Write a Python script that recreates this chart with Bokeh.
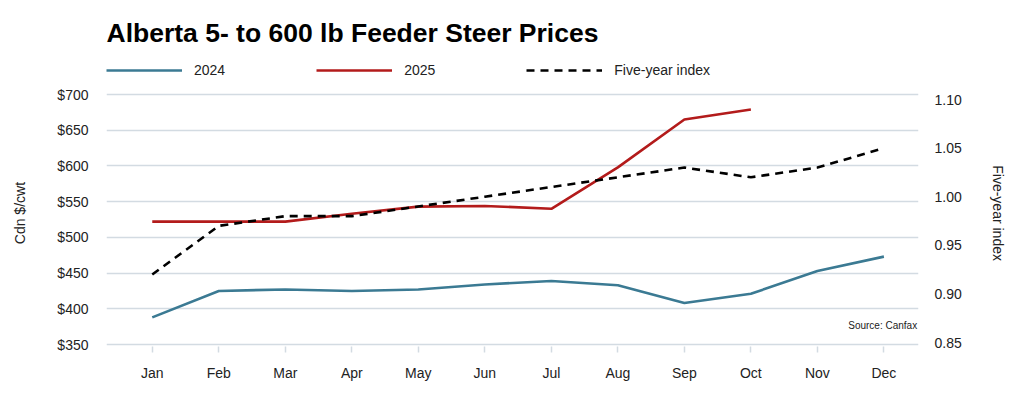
from bokeh.plotting import figure
from bokeh.models import (Range1d, LinearAxis, FixedTicker, Legend, LegendItem, Label)
from bokeh.embed import file_html
from bokeh.resources import INLINE

months = ["Jan", "Feb", "Mar", "Apr", "May", "Jun", "Jul", "Aug", "Sep", "Oct", "Nov", "Dec"]
prices_2024 = [388, 425, 427, 425, 427, 434, 439, 433, 408, 421, 453, 473]
prices_2025 = [522, 522, 522, 533, 543, 544, 540, 598, 665, 679]
five_year_index = [0.92, 0.97, 0.98, 0.98, 0.99, 1.00, 1.01, 1.02, 1.03, 1.02, 1.03, 1.05]
left_ticks = [350, 400, 450, 500, 550, 600, 650, 700]
right_ticks = [0.85, 0.90, 0.95, 1.00, 1.05, 1.10]

FONT = "Liberation Sans"
GRID = "#d3dbe2"
TXT = "#222222"
PAD = "\u00a0" * 7

x_idx = list(range(len(months)))

# frame: page y 52..346, x 106..922
p = figure(width=1008, height=394, output_backend="svg", toolbar_location=None,
           x_range=Range1d(-0.688, 11.52), y_range=Range1d(347.2, 758.8),
           min_border_left=106, min_border_right=86, min_border_top=52, min_border_bottom=48,
           title="Alberta 5- to 600 lb Feeder Steer Prices")
p.outline_line_color = None
p.background_fill_color = "white"
p.border_fill_color = "white"
p.extra_y_ranges = {"idx": Range1d(0.8459, 1.1484)}

p.title.align = "left"
p.title.text_font = FONT
p.title.text_font_size = "26.5px"
p.title.text_font_style = "bold"
p.title.text_color = "black"
p.title.standoff = 10

# x axis
xa = p.xaxis[0]
xa.ticker = FixedTicker(ticks=x_idx)
xa.major_label_overrides = {i: m for i, m in enumerate(months)}
xa.axis_line_color = None
xa.major_tick_line_color = GRID
xa.major_tick_line_width = 1.5
xa.major_tick_in = 0
xa.major_tick_out = 6
xa.minor_tick_line_color = None
xa.major_label_standoff = 12
xa.major_label_text_font = FONT
xa.major_label_text_font_size = "14px"
xa.major_label_text_color = TXT

# left y axis
ya = p.yaxis[0]
ya.ticker = FixedTicker(ticks=left_ticks)
ya.major_label_overrides = {v: "${}".format(v) for v in left_ticks}
ya.axis_line_color = None
ya.major_tick_line_color = None
ya.major_tick_out = 0
ya.major_tick_in = 0
ya.minor_tick_line_color = None
ya.minor_tick_out = 0
ya.major_label_standoff = 18
ya.major_label_text_font = FONT
ya.major_label_text_font_size = "14px"
ya.major_label_text_color = TXT
ya.axis_label = "Cdn $/cwt" + PAD
ya.axis_label_text_font = FONT
ya.axis_label_text_font_size = "14px"
ya.axis_label_text_font_style = "normal"
ya.axis_label_text_color = TXT
ya.axis_label_standoff = 26

# right axis
ra = LinearAxis(y_range_name="idx", ticker=FixedTicker(ticks=right_ticks))
ra.major_label_overrides = {v: "{:.2f}".format(v) for v in right_ticks}
ra.axis_line_color = None
ra.major_tick_line_color = None
ra.major_tick_out = 0
ra.major_tick_in = 0
ra.minor_tick_line_color = None
ra.minor_tick_out = 0
ra.major_label_standoff = 16
ra.major_label_text_font = FONT
ra.major_label_text_font_size = "14px"
ra.major_label_text_color = TXT
ra.axis_label = PAD + "Five-year index"
ra.axis_label_text_font = FONT
ra.axis_label_text_font_size = "14px"
ra.axis_label_text_font_style = "normal"
ra.axis_label_text_color = TXT
ra.axis_label_standoff = 25
p.add_layout(ra, "right")

p.xgrid.grid_line_color = None
p.ygrid.grid_line_color = GRID
p.ygrid.grid_line_width = 1.5
p.ygrid.ticker = FixedTicker(ticks=left_ticks)

r24 = p.line(x_idx, prices_2024, line_color="#3b7a93", line_width=2.6)
r25 = p.line(x_idx[:len(prices_2025)], prices_2025, line_color="#b31b1b", line_width=2.6)
r5 = p.line(x_idx, five_year_index, y_range_name="idx", line_color="black",
            line_width=2.6, line_dash="8 6")

legend = Legend(items=[LegendItem(label="2024", renderers=[r24]),
                       LegendItem(label="2025", renderers=[r25]),
                       LegendItem(label="Five-year index", renderers=[r5])],
                orientation="horizontal", location="top_left",
                glyph_width=76, glyph_height=36, label_height=36,
                label_standoff=12, spacing=91, padding=0, margin=0,
                border_line_color=None, background_fill_alpha=0,
                label_text_font=FONT, label_text_font_size="14px",
                label_text_color=TXT)
p.add_layout(legend, "center")

p.add_layout(Label(x=11.50, y=377, text="Source: Canfax", text_align="right",
                   text_baseline="middle", text_font=FONT, text_font_size="10px",
                   text_color=TXT))

open("out.html", "w").write(file_html(p, INLINE))
